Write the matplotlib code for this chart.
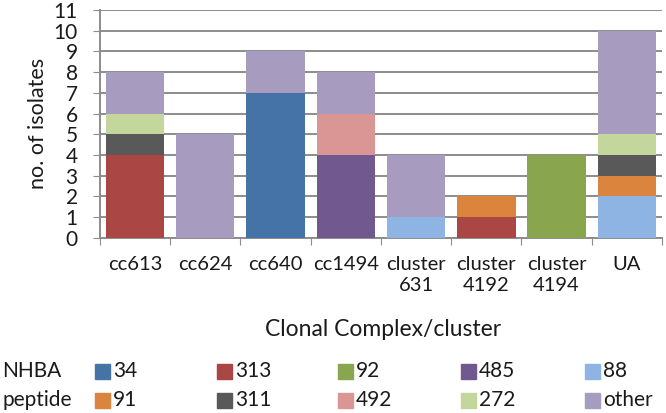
import matplotlib.pyplot as plt
from matplotlib.patches import Rectangle
import numpy as np

categories = ["cc613", "cc624", "cc640", "cc1494", "cluster\n631",
              "cluster\n4192", "cluster\n4194", "UA"]
peptides = ["34", "313", "92", "485", "88", "91", "311", "492", "272", "other"]
colors = ["#4572A7", "#AA4643", "#89A54E", "#71588F", "#8EB4E3",
          "#DB843D", "#595959", "#D99694", "#C3D69B", "#A79BC0"]

# counts per peptide, one value per category
counts = {
    "34":    [0, 0, 7, 0, 0, 0, 0, 0],
    "313":   [4, 0, 0, 0, 0, 1, 0, 0],
    "92":    [0, 0, 0, 0, 0, 0, 4, 0],
    "485":   [0, 0, 0, 4, 0, 0, 0, 0],
    "88":    [0, 0, 0, 0, 1, 0, 0, 2],
    "91":    [0, 0, 0, 0, 0, 1, 0, 1],
    "311":   [1, 0, 0, 0, 0, 0, 0, 1],
    "492":   [0, 0, 0, 2, 0, 0, 0, 0],
    "272":   [1, 0, 0, 0, 0, 0, 0, 1],
    "other": [2, 5, 2, 2, 3, 0, 0, 5],
}

plt.rcParams["font.family"] = ["Lato", "DejaVu Sans"]
grid_col = "#8c8c8c"
txt_col = "#1a1a1a"

fig = plt.figure(figsize=(6.66, 4.13), dpi=100)
ax = fig.add_axes([0.150, 0.424, 0.844, 0.552])

x = np.arange(len(categories))
bottom = np.zeros(len(categories))
for pep, col in zip(peptides, colors):
    vals = np.array(counts[pep], dtype=float)
    ax.bar(x, vals, bottom=bottom, width=0.83, color=col, zorder=3)
    bottom += vals

ax.set_xlim(-0.5, len(categories) - 0.5)
ax.set_ylim(0, 11)
ax.set_yticks(range(0, 12))
ax.tick_params(axis="y", labelsize=15, length=5, color=grid_col, pad=11,
               labelcolor=txt_col)
ax.set_xticks(np.arange(-0.5, len(categories), 1))
ax.set_xticklabels([])
ax.tick_params(axis="x", length=5, color=grid_col, direction="out")
for xi, lab in zip(x, categories):
    ax.text(xi, -0.85, lab, ha="center", va="top", fontsize=14.5,
            color=txt_col, linespacing=1.3)

ax.grid(axis="y", color=grid_col, linewidth=1.4, zorder=0)
ax.spines["top"].set_visible(False)
ax.spines["right"].set_visible(False)
for side in ["left", "bottom"]:
    ax.spines[side].set_color(grid_col)
    ax.spines[side].set_linewidth(1.4)

ax.set_ylabel("no. of isolates", fontsize=15.5, labelpad=4, color=txt_col)

fig.text(0.575, 1 - 329 / 413, "Clonal Complex/cluster", ha="center",
         va="center", fontsize=16.5, color=txt_col)

# legend, laid out in two rows of five
row_y = [1 - 371 / 413, 1 - 400 / 413]
fig.text(2 / 666, row_y[0], "NHBA", ha="left", va="center", fontsize=15,
         color=txt_col)
fig.text(2 / 666, row_y[1], "peptide", ha="left", va="center", fontsize=15,
         color=txt_col)
col_x = [95, 217, 338, 461, 585]
for i, (pep, col) in enumerate(zip(peptides, colors)):
    r = 0 if i < 5 else 1
    c = i % 5
    x0 = col_x[c] / 666
    sq_w = 15 / 666
    sq_h = 15 / 413
    fig.add_artist(Rectangle((x0, row_y[r] - sq_h / 2), sq_w, sq_h,
                             transform=fig.transFigure, color=col))
    fig.text(x0 + 18 / 666, row_y[r], pep, ha="left", va="center",
             fontsize=15, color=txt_col)

fig.savefig("out.png", dpi=100)
